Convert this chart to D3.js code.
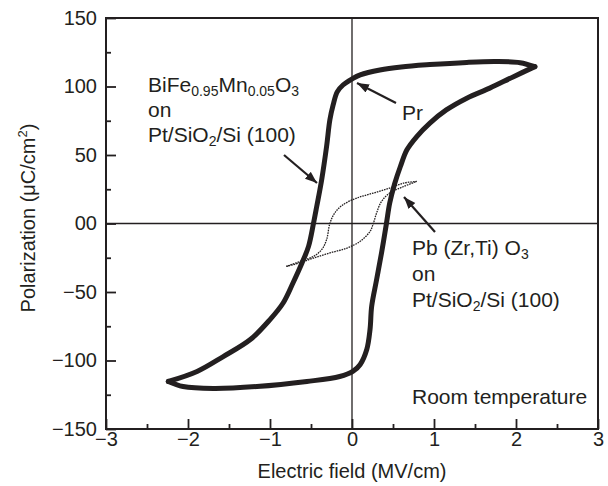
<!DOCTYPE html>
<html>
<head>
<meta charset="utf-8">
<script src="https://cdn.jsdelivr.net/npm/d3@7"></script>
<style>
  body { margin: 0; background: #fff; }
  text { font-family: "Liberation Sans", Arial, Helvetica, sans-serif; fill: #231f20; }
</style>
</head>
<body>
<script>
// values (E in MV/cm, P in uC/cm2)
var xMajor = [-3, -2, -1, 0, 1, 2, 3];
var xMinor = [-2.5, -1.5, -0.5, 0.5, 1.5, 2.5];
var xTickLabels = ['\u22123', '\u22122', '\u22121', '0', '1', '2', '3'];
var yMajor = [-150, -100, -50, 0, 50, 100, 150];
var yMinor = [-125, -75, -25, 25, 75, 125];
var yTickLabels = ['\u2212150', '\u2212100', '\u221250', '00', '50', '100', '150'];

// BiFe0.95Mn0.05O3 loop, upper branch (field decreasing)
var bfmUpper = [[2.23, 114.5], [2.05, 117.4], [1.75, 118.2], [1.40, 117.6], [0.95, 116.0],
  [0.60, 114.3], [0.34, 112.1], [0.10, 108.5], [0.00, 105.5], [-0.11, 101.1], [-0.18, 96.1],
  [-0.23, 86.6], [-0.27, 75.6], [-0.31, 56.2], [-0.37, 31.9], [-0.43, 12.5], [-0.47, 0],
  [-0.53, -16.7], [-0.61, -28.8], [-0.72, -43.4], [-0.84, -58.0], [-1.00, -70.1],
  [-1.24, -84.7], [-1.57, -97.1], [-1.89, -108.0], [-2.24, -115.3]];
// lower branch (field increasing)
var bfmLower = [[-2.24, -115.3], [-2.06, -119.0], [-1.69, -120.4], [-1.16, -119.0],
  [-0.55, -115.3], [-0.15, -111.7], [0.01, -108.0], [0.10, -102.9], [0.18, -92.0],
  [0.22, -77.3], [0.24, -60.4], [0.30, -41.0], [0.36, -21.5], [0.42, 0], [0.46, 14.9],
  [0.52, 29.0], [0.59, 41.6], [0.67, 53.8], [0.79, 63.5], [0.95, 73.3], [1.15, 82.9],
  [1.40, 91.5], [1.68, 98.8], [1.97, 107.2], [2.23, 114.5]];

// Pb(Zr,Ti)O3 loop
var pztUpper = [[0.79, 30.7], [0.63, 29.5], [0.46, 25.9], [0.26, 22.2], [0.06, 18.6],
  [-0.11, 13.7], [-0.21, 7.7], [-0.27, 0], [-0.31, -11.8], [-0.37, -19.1],
  [-0.47, -24.0], [-0.63, -27.6], [-0.80, -31.3]];
var pztLower = [[-0.80, -31.3], [-0.63, -28.6], [-0.47, -25.2], [-0.27, -21.5],
  [-0.06, -17.9], [0.10, -13.0], [0.22, -5.8], [0.26, 0], [0.30, 7.7], [0.36, 16.1],
  [0.46, 22.2], [0.63, 27.0], [0.79, 30.7]];

var W = 608, H = 486;
var ink = '#231f20';

var svg = d3.select('body').append('svg')
    .attr('width', W)
    .attr('height', H);

svg.append('defs').append('marker')
    .attr('id', 'head')
    .attr('markerUnits', 'userSpaceOnUse')
    .attr('markerWidth', 14).attr('markerHeight', 10)
    .attr('refX', 12).attr('refY', 4.5)
    .attr('orient', 'auto')
  .append('path')
    .attr('d', 'M0,0 L12,4.5 L0,9 Z')
    .style('fill', ink);

var x = d3.scaleLinear().domain([-3, 3]).range([106, 598]);
var y = d3.scaleLinear().domain([-150, 150]).range([429, 18]);

// ticks (inward)
svg.append('g').attr('transform', 'translate(0,' + y(-150) + ')')
    .call(d3.axisBottom(x).tickValues(xMajor).tickSize(-10).tickSizeOuter(0).tickPadding(3)
      .tickFormat(function(d, i) { return xTickLabels[i]; }));
svg.append('g').attr('transform', 'translate(0,' + y(-150) + ')')
    .call(d3.axisBottom(x).tickValues(xMinor).tickSize(-5).tickSizeOuter(0).tickFormat(''));
svg.append('g').attr('transform', 'translate(' + x(-3) + ',0)')
    .call(d3.axisLeft(y).tickValues(yMajor).tickSize(-10).tickSizeOuter(0).tickPadding(9)
      .tickFormat(function(d, i) { return yTickLabels[i]; }));
svg.append('g').attr('transform', 'translate(' + x(-3) + ',0)')
    .call(d3.axisLeft(y).tickValues(yMinor).tickSize(-5).tickSizeOuter(0).tickFormat(''));

svg.selectAll('.domain').remove();
svg.selectAll('.tick line').style('stroke', ink).style('stroke-width', 1.8);
svg.selectAll('.tick text').style('font-size', '20px').style('fill', ink)
    .style('font-family', '"Liberation Sans", Arial, sans-serif');

// zero lines
svg.append('line')
    .attr('x1', x(-3)).attr('x2', x(3)).attr('y1', y(0)).attr('y2', y(0))
    .style('stroke', ink).style('stroke-width', 1.3);
svg.append('line')
    .attr('x1', x(0)).attr('x2', x(0)).attr('y1', y(150)).attr('y2', y(-150))
    .style('stroke', ink).style('stroke-width', 1.3);

// frame
svg.append('rect')
    .attr('x', x(-3)).attr('y', y(150))
    .attr('width', x(3) - x(-3)).attr('height', y(-150) - y(150))
    .style('fill', 'none').style('stroke', ink).style('stroke-width', 2);

var line = d3.line()
    .x(function(d) { return x(d[0]); })
    .y(function(d) { return y(d[1]); })
    .curve(d3.curveCatmullRom.alpha(0.5));

[pztUpper, pztLower].forEach(function(b) {
  svg.append('path').attr('d', line(b))
      .style('fill', 'none').style('stroke', ink)
      .style('stroke-width', 1.3).style('stroke-dasharray', '1.6,0.9');
});
[bfmUpper, bfmLower].forEach(function(b) {
  svg.append('path').attr('d', line(b))
      .style('fill', 'none').style('stroke', ink)
      .style('stroke-width', 5).style('stroke-linejoin', 'round').style('stroke-linecap', 'round');
});

// arrows
function arrow(x1, y1, x2, y2) {
  svg.append('line')
      .attr('x1', x1).attr('y1', y1).attr('x2', x2).attr('y2', y2)
      .style('stroke', ink).style('stroke-width', 2.2)
      .attr('marker-end', 'url(#head)');
}
arrow(284, 155, 317, 183);
arrow(396, 103, 357, 83);
arrow(435, 232, 404, 197);

// annotations
function label(px, py, parts) {
  var t = svg.append('text').attr('x', px).attr('y', py).style('font-size', '21px');
  parts.forEach(function(p) {
    var s = t.append('tspan').text(p[0]);
    if (p[1] === 'sub') s.style('font-size', '14px').attr('dy', 4);
    else if (p[1] === 'back') s.attr('dy', -4);
  });
  return t;
}
label(148, 92, [['BiFe'], ['0.95', 'sub'], ['Mn', 'back'], ['0.05', 'sub'], ['O', 'back'], ['3', 'sub']]);
label(148, 117, [['on']]);
label(148, 142, [['Pt/SiO'], ['2', 'sub'], ['/Si (100)', 'back']]);
label(402, 120, [['Pr']]);
label(412, 255, [['Pb (Zr,Ti) O'], ['3', 'sub']]);
label(412, 281, [['on']]);
label(412, 307, [['Pt/SiO'], ['2', 'sub'], ['/Si (100)', 'back']]);
label(412, 404, [['Room temperature']]);

// axis titles
svg.append('text')
    .attr('x', x(0)).attr('y', 478)
    .attr('text-anchor', 'middle')
    .style('font-size', '20px')
    .text('Electric field (MV/cm)');
var yl = svg.append('text')
    .attr('transform', 'translate(35,218) rotate(-90)')
    .attr('text-anchor', 'middle')
    .style('font-size', '20px');
yl.append('tspan').text('Polarization (\u03bcC/cm');
yl.append('tspan').text('2').style('font-size', '13px').attr('dy', -8);
yl.append('tspan').text(')').attr('dy', 8);
</script>
</body>
</html>
